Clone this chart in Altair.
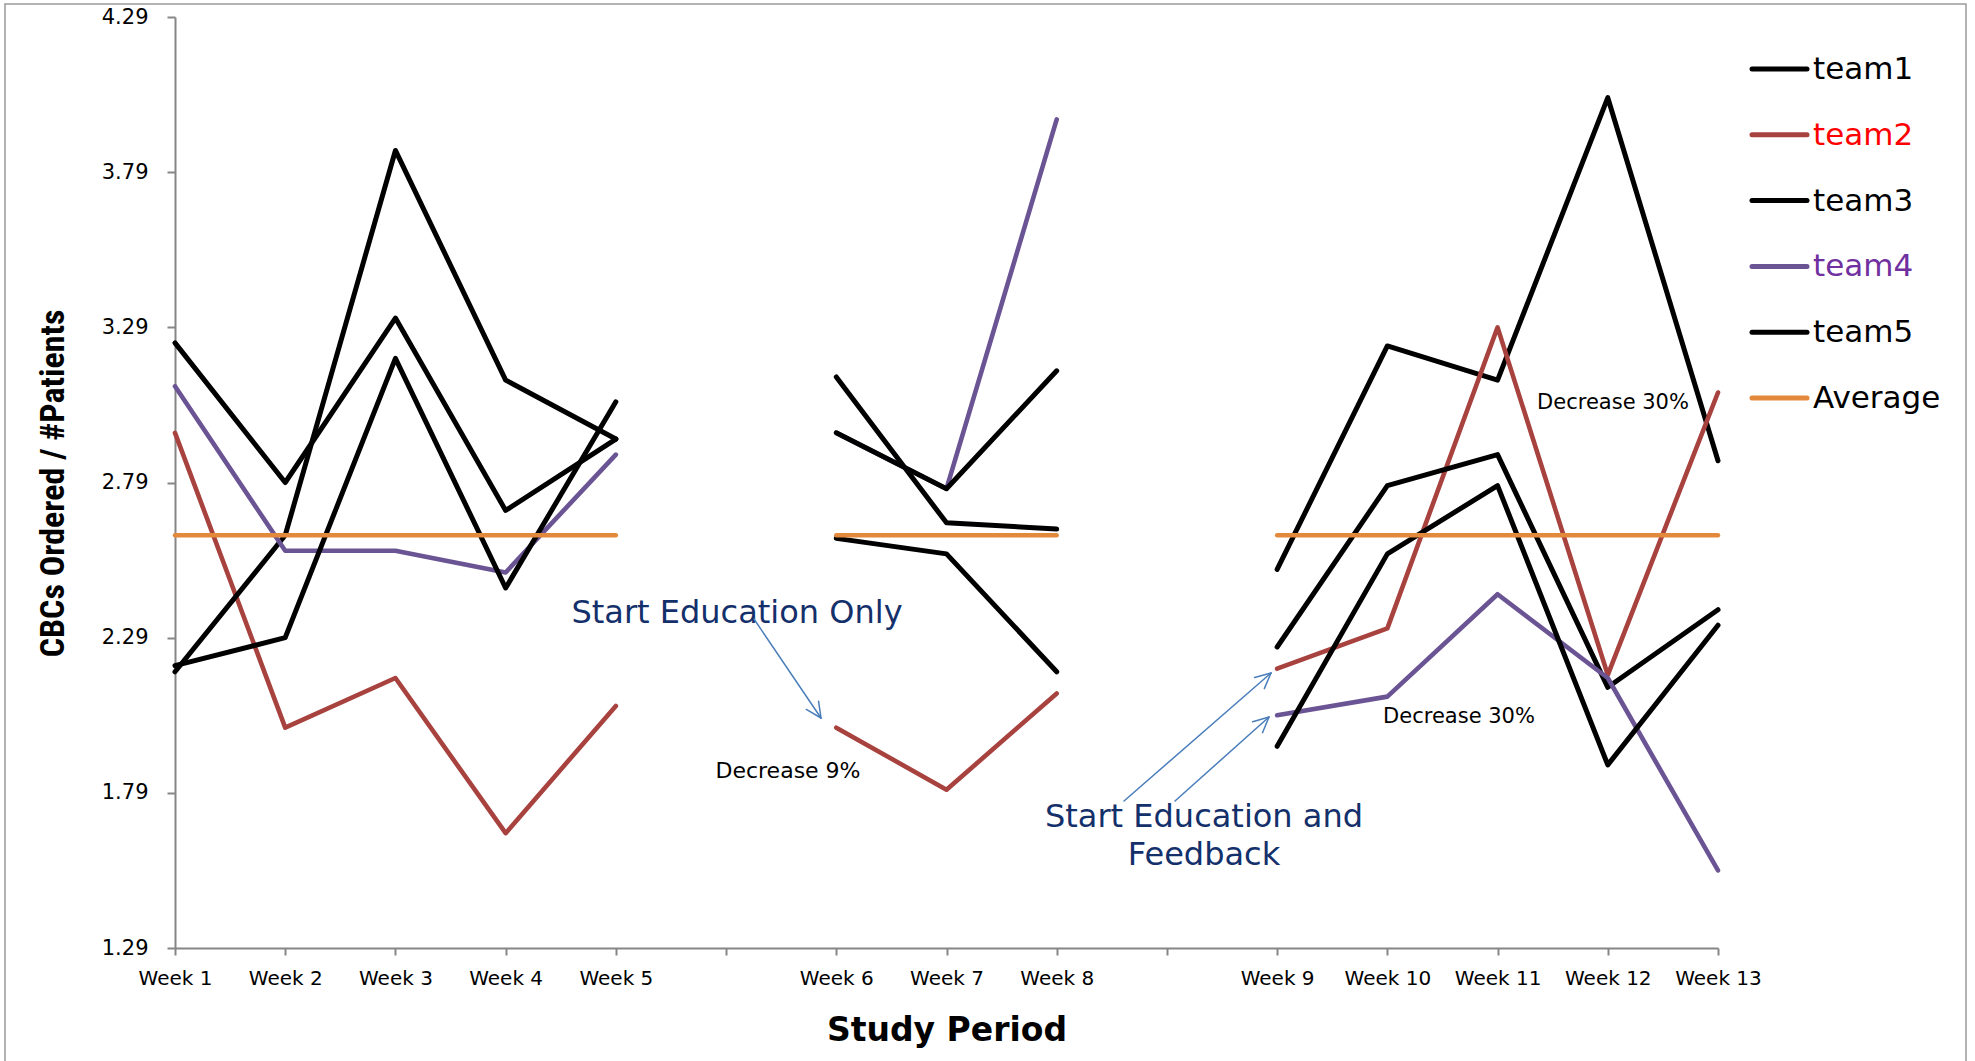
import math
import altair as alt
import pandas as pd

# Category axis: three study phases separated by an empty slot
weeks = ["Week 1", "Week 2", "Week 3", "Week 4", "Week 5", " ",
         "Week 6", "Week 7", "Week 8", "  ",
         "Week 9", "Week 10", "Week 11", "Week 12", "Week 13"]
phase_weeks = [
    ["Week 1", "Week 2", "Week 3", "Week 4", "Week 5"],
    ["Week 6", "Week 7", "Week 8"],
    ["Week 9", "Week 10", "Week 11", "Week 12", "Week 13"],
]

# CBCs ordered per patient, one list per phase
team1 = [[3.24, 2.79, 3.32, 2.70, 2.93], [3.13, 2.66, 2.64], [2.51, 3.23, 3.12, 4.03, 2.86]]
team2 = [[2.95, 2.00, 2.16, 1.66, 2.07], [2.00, 1.80, 2.11], [2.19, 2.32, 3.29, 2.17, 3.08]]
team3 = [[2.18, 2.62, 3.86, 3.12, 2.93], [2.61, 2.56, 2.18], [2.26, 2.78, 2.88, 2.13, 2.38]]
team4 = [[3.10, 2.57, 2.57, 2.50, 2.88], [2.95, 2.77, 3.96], [2.04, 2.10, 2.43, 2.16, 1.54]]
team5 = [[2.20, 2.29, 3.19, 2.45, 3.05], [2.95, 2.77, 3.15], [1.94, 2.56, 2.78, 1.88, 2.33]]
average = [[2.62] * 5, [2.62] * 3, [2.62] * 5]

series_names = ["team1", "team2", "team3", "team4", "team5", "Average"]
series_values = [team1, team2, team3, team4, team5, average]
series_colors = ["#000000", "#A8423E", "#000000", "#6A5494", "#000000", "#E2893B"]
series_widths = [5, 4.6, 5, 4.6, 5, 4.4]
label_colors = ["#000000", "#FF0000", "#000000", "#7030A0", "#000000", "#000000"]
y_ticks = [1.29, 1.79, 2.29, 2.79, 3.29, 3.79, 4.29]

rows = []
for name, phases in zip(series_names, series_values):
    for seg, (wk, vals) in enumerate(zip(phase_weeks, phases)):
        for w, v in zip(wk, vals):
            rows.append({"week": w, "value": v, "team": name, "segment": seg})
df = pd.DataFrame(rows)

W, H = 1543, 931
LABEL_FONT = "DejaVu Sans"
NAVY = "#14306B"
ARROW = "#4A7EBB"

base = alt.Chart(df).encode(
    x=alt.X("week:N", sort=weeks,
            scale=alt.Scale(type="point", domain=weeks, padding=0),
            axis=alt.Axis(title="Study Period", labelAngle=0, labelFont=LABEL_FONT,
                          labelFontSize=20, labelColor="#000000", labelPadding=13,
                          tickSize=7, tickWidth=2, tickColor="#868686",
                          domainColor="#868686", domainWidth=2, grid=False,
                          titleFont=LABEL_FONT, titleFontSize=33, titleFontWeight="bold",
                          titleColor="#000000", titleY=82, titleBaseline="middle")),
    y=alt.Y("value:Q",
            scale=alt.Scale(domain=[1.29, 4.29], nice=False, zero=False),
            axis=alt.Axis(title="CBCs Ordered / #Patients", values=y_ticks, format=".2f",
                          labelFont=LABEL_FONT, labelFontSize=21, labelColor="#000000",
                          labelPadding=19, tickSize=8, tickWidth=2, tickColor="#868686",
                          domainColor="#868686", domainWidth=2, grid=False,
                          titleFont="Liberation Sans Narrow, Roboto Condensed, DejaVu Sans Condensed, Liberation Sans",
                          titleFontSize=34, titleFontWeight="bold", titleColor="#000000",
                          titleAngle=270, titleX=-122, titleY=466, titleAlign="center",
                          titleBaseline="middle")),
    detail="segment:N",
)

layers = []
for name, color, sw in zip(series_names, series_colors, series_widths):
    layers.append(
        base.transform_filter(alt.datum.team == name).mark_line(
            color=color, strokeWidth=sw, strokeCap="round", strokeJoin="round"
        )
    )

one = pd.DataFrame({"k": [0]})


def text_layer(txt, x, y, size, color="#000000", align="center", weight="normal"):
    return alt.Chart(one).mark_text(
        text=txt, font=LABEL_FONT, fontSize=size, color=color, align=align,
        baseline="middle", fontWeight=weight
    ).encode(x=alt.value(x), y=alt.value(y))


def rule_layer(x1, y1, x2, y2, color, width):
    return alt.Chart(one).mark_rule(color=color, strokeWidth=width, strokeCap="round").encode(
        x=alt.value(x1), y=alt.value(y1), x2=alt.value(x2), y2=alt.value(y2)
    )


def arrow_layers(x1, y1, x2, y2):
    out = [rule_layer(x1, y1, x2, y2, ARROW, 1.5)]
    ang = math.atan2(y2 - y1, x2 - x1)
    for d in (-0.45, 0.45):
        a = ang + math.pi + d
        out.append(rule_layer(x2, y2, x2 + 17 * math.cos(a), y2 + 17 * math.sin(a), ARROW, 1.5))
    return out


# Annotations (pixel positions within the plot area)
ann = []
ann.append(text_layer("Start Education Only", 562, 596, 32, NAVY))
ann += arrow_layers(579, 602, 646, 701)
ann.append(text_layer("Decrease 9%", 613, 754, 22))
ann.append(text_layer("Start Education and", 1029, 800, 32, NAVY))
ann.append(text_layer("Feedback", 1029, 838, 32, NAVY))
ann += arrow_layers(949, 784, 1096, 656)
ann += arrow_layers(1000, 784, 1094, 700)
ann.append(text_layer("Decrease 30%", 1438, 386, 21))
ann.append(text_layer("Decrease 30%", 1284, 700, 21))

# Legend drawn at the right of the plot
legend = []
for i, (name, color, lc) in enumerate(zip(series_names, series_colors, label_colors)):
    ly = 52 + i * 65.8
    legend.append(rule_layer(1577, ly, 1632, ly, color, 5))
    legend.append(text_layer(name, 1638, ly + 1, 31, lc, align="left"))

# Outer frame
frame = alt.Chart(one).mark_rect(fillOpacity=0, stroke="#9A9A9A", strokeWidth=1.5).encode(
    x=alt.value(-170), y=alt.value(-13), x2=alt.value(1791), y2=alt.value(1070)
)

chart = alt.layer(frame, *layers, *ann, *legend).properties(
    width=W, height=H,
    padding={"left": 175, "top": 17, "right": 257, "bottom": 113},
    autosize=alt.AutoSizeParams(type="none"),
    background="#FFFFFF",
).configure_view(stroke=None)

chart.save("out.html", embed_options={"renderer": "svg", "actions": False})
